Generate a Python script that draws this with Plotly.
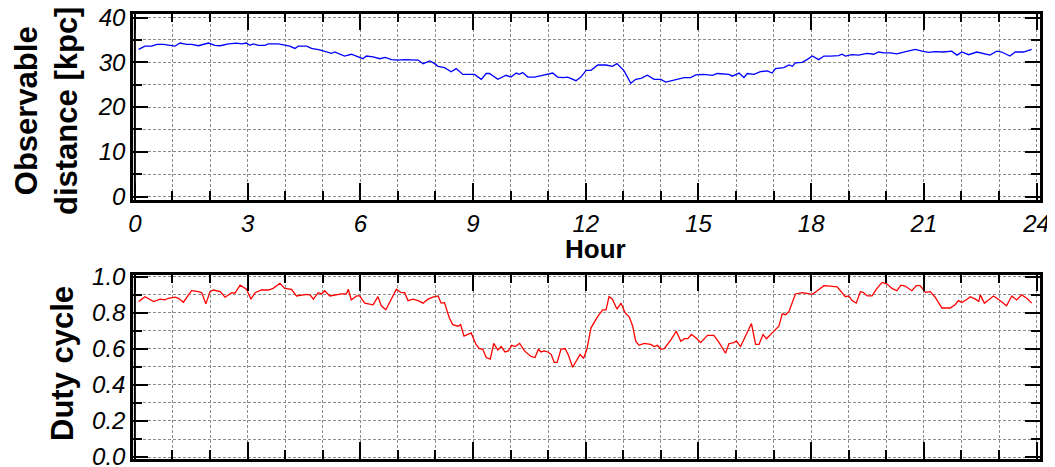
import plotly.graph_objects as go

# ---- data ----
hours_dist = [0.10,0.27,0.45,0.58,0.76,0.89,1.07,1.20,1.38,1.51,1.69,1.96,2.13,2.27,2.49,2.71,2.84,2.97,3.06,3.15,
              3.29,3.46,3.55,3.82,3.99,4.12,4.26,4.35,4.57,4.70,4.92,5.05,5.23,5.32,5.45,5.58,5.76,5.94,6.07,6.16,
              6.34,6.52,6.66,6.83,7.00,7.18,7.45,7.54,7.67,7.85,7.98,
              8.07,8.24,8.42,8.55,8.73,9.04,9.22,9.35,9.44,9.66,9.88,10.01,10.15,10.23,10.32,10.46,10.63,10.85,10.99,
              11.12,11.25,11.39,11.52,11.61,11.74,11.87,12.01,12.14,12.32,12.54,12.71,12.83,13.02,13.20,13.33,13.47,
              13.64,13.82,14.00,14.13,14.26,14.62,14.79,14.93,15.15,15.37,15.50,15.81,15.90,
              16.08,16.21,16.30,16.48,16.65,16.83,16.96,17.05,17.27,17.41,17.50,17.58,17.76,17.89,18.03,18.20,18.34,
              18.51,18.73,18.82,18.91,19.09,19.26,19.49,19.66,19.80,19.93,20.11,20.28,20.46,20.68,20.77,20.95,21.12,
              21.30,21.52,21.74,21.88,22.01,22.19,22.41,22.58,22.76,22.94,23.07,23.29,23.43,23.65,23.87]
distance_kpc = [32.9,33.6,33.6,34.0,34.0,33.8,33.6,34.3,34.0,34.0,33.7,34.3,33.8,33.7,34.1,34.3,34.1,34.3,33.8,34.1,
                33.8,33.8,34.1,34.1,33.8,33.6,33.1,33.6,33.6,33.1,32.8,32.5,32.0,32.3,31.8,31.4,31.8,31.2,30.8,31.4,
                31.2,30.8,31.1,30.6,30.5,30.6,30.6,30.5,29.7,30.3,29.7,
                29.1,28.8,27.9,28.6,27.3,27.3,26.2,27.5,27.5,26.2,27.1,26.7,27.6,27.3,27.7,26.7,26.7,27.1,27.3,
                27.6,26.7,26.6,26.7,26.4,25.9,26.7,28.2,28.2,29.4,29.4,29.1,29.7,28.1,25.3,26.2,26.4,
                27.1,26.2,26.2,25.6,25.9,26.6,26.6,27.2,27.3,27.1,27.5,27.3,26.9,
                27.6,26.6,27.5,27.3,27.9,28.1,27.6,28.6,28.8,29.4,29.1,29.9,30.0,30.6,31.4,30.6,31.4,
                31.4,31.5,31.8,31.4,31.7,31.6,32.0,31.8,32.3,32.1,32.1,31.9,32.3,32.7,32.9,32.5,32.2,
                32.4,32.3,32.5,31.6,32.3,31.7,32.3,32.0,31.6,32.5,32.3,31.4,32.3,32.3,32.9]

hours_duty = [0.10,0.27,0.50,0.67,0.80,0.89,1.07,1.16,1.29,1.51,1.69,1.78,1.89,2.00,2.09,2.27,2.40,2.58,2.66,2.80,
              2.97,3.09,3.20,3.37,3.55,3.68,3.86,3.99,4.17,4.30,4.57,4.66,4.75,4.88,4.97,5.05,5.19,5.50,5.63,5.68,
              5.76,5.90,5.98,6.12,6.34,6.47,6.56,6.68,6.96,7.09,7.18,7.27,7.40,7.54,7.67,7.80,7.93,8.07,
              8.15,8.24,8.37,8.46,8.60,8.67,8.76,8.95,9.08,9.17,9.26,9.35,9.46,9.55,9.66,9.75,9.85,9.94,10.03,10.12,
              10.24,10.37,10.54,10.65,10.74,10.81,10.90,10.99,11.08,11.16,11.24,11.34,11.45,11.54,11.65,11.78,11.85,
              11.94,12.03,12.14,12.32,12.45,12.54,12.62,12.71,12.83,12.94,13.04,13.16,13.25,13.33,13.42,13.55,13.73,
              13.82,13.91,14.00,14.09,14.26,14.41,14.53,14.63,14.72,14.81,14.93,
              15.06,15.24,15.41,15.55,15.72,15.81,15.94,16.01,16.12,16.25,16.41,16.52,16.61,16.72,16.81,16.96,17.10,
              17.14,17.23,17.32,17.41,
              17.58,17.76,17.89,18.03,18.16,18.34,18.51,18.69,18.91,19.00,19.09,19.20,19.31,19.40,19.49,19.62,19.75,
              19.89,20.02,20.15,20.28,20.39,20.50,20.68,20.80,20.90,21.04,21.17,21.30,21.48,21.70,21.83,21.92,22.01,
              22.15,22.23,22.37,22.46,22.50,22.61,22.72,22.85,22.98,23.12,23.20,23.34,23.47,23.60,23.74,23.87]
duty_cycle = [0.863,0.890,0.863,0.876,0.872,0.881,0.887,0.881,0.859,0.923,0.918,0.912,0.850,0.918,0.927,0.918,0.887,0.912,0.909,0.954,
              0.931,0.876,0.912,0.927,0.927,0.936,0.964,0.936,0.931,0.894,0.903,0.900,0.876,0.912,0.905,0.923,0.894,0.905,0.905,0.931,
              0.872,0.894,0.894,0.854,0.845,0.890,0.839,0.817,0.931,0.912,0.912,0.868,0.876,0.868,0.854,0.876,0.887,0.894,
              0.854,0.857,0.772,0.735,0.726,0.735,0.671,0.689,0.625,0.602,0.598,0.552,0.543,0.631,0.594,0.613,0.583,0.589,0.620,0.613,
              0.631,0.589,0.558,0.552,0.598,0.583,0.589,0.583,0.570,0.525,0.525,0.598,0.602,0.565,0.498,0.543,0.570,
              0.547,0.598,0.717,0.781,0.817,0.817,0.890,0.876,0.821,0.854,0.803,0.777,0.726,0.643,0.620,0.631,0.625,
              0.613,0.620,0.598,0.602,0.649,0.698,0.643,0.657,0.657,0.680,0.662,
              0.635,0.675,0.675,0.635,0.576,0.629,0.635,0.644,0.613,0.671,0.741,0.625,0.625,0.680,0.656,0.689,0.722,
              0.726,0.795,0.790,0.808,
              0.905,0.912,0.909,0.903,0.923,0.951,0.949,0.945,0.890,0.894,0.868,0.854,0.918,0.912,0.894,0.894,0.936,
              0.969,0.960,0.936,0.923,0.954,0.949,0.923,0.951,0.951,0.914,0.918,0.887,0.827,0.827,0.845,0.868,0.857,
              0.876,0.890,0.876,0.863,0.900,0.854,0.872,0.894,0.876,0.854,0.839,0.894,0.872,0.900,0.881,0.854]

x_ticks = [0, 3, 6, 9, 12, 15, 18, 21, 24]
dist_ticks = [0, 10, 20, 30, 40]
duty_ticks = [0.0, 0.2, 0.4, 0.6, 0.8, 1.0]

# ---- styling ----
W, H = 1055, 467
OFF = 8  # page margin around the figure
FONT = "Liberation Sans, Arial, sans-serif"
GRID = "#8c8c8c"
XL, XR = 133, 1040
TOP_T, TOP_B = 13.5, 200
BOT_T, BOT_B = 274.5, 459


def px2fx(p):
    return (p - OFF) / W


def px2fy(p):
    return 1 - (p - OFF) / H


def ital(vals, fmt):
    return ["<i>" + fmt.format(v) + "</i>" for v in vals]


fig = go.Figure()
fig.add_trace(go.Scatter(x=hours_dist, y=distance_kpc, mode="lines",
                         line=dict(color="#0000ff", width=1.3), xaxis="x", yaxis="y",
                         showlegend=False, hoverinfo="skip"))
fig.add_trace(go.Scatter(x=hours_duty, y=duty_cycle, mode="lines",
                         line=dict(color="#ff0000", width=1.3), xaxis="x2", yaxis="y2",
                         showlegend=False, hoverinfo="skip"))

tickfont = dict(family=FONT, size=24, color="black")
grid_common = dict(showgrid=True, gridcolor=GRID, gridwidth=1, griddash="3px,2px")
axis_common = dict(showline=True, linecolor="black", linewidth=2.5, mirror="allticks",
                   ticks="inside", tickcolor="black", tickwidth=2.2,
                   zeroline=False, tickfont=tickfont, fixedrange=True, automargin=False,
                   ticklabeloverflow="allow", **grid_common)


def xaxis(show_labels):
    return dict(
        domain=[px2fx(XL), px2fx(XR)], range=[-0.05, 24.09],
        tickvals=x_ticks, ticktext=ital(x_ticks, "{}"), showticklabels=show_labels,
        ticklen=17,
        minor=dict(dtick=1, tick0=0, ticks="inside", ticklen=9, tickwidth=1.6, tickcolor="black",
                   **grid_common),
        **axis_common,
    )


fig.update_layout(
    width=W, height=H, margin=dict(l=0, r=0, t=0, b=0, autoexpand=False),
    paper_bgcolor="white", plot_bgcolor="white",
    xaxis=dict(**xaxis(True), anchor="y"),
    xaxis2=dict(**xaxis(False), anchor="y2"),
    yaxis=dict(
        domain=[px2fy(TOP_B), px2fy(TOP_T)], range=[-0.75, 40.9], anchor="x",
        tickvals=dist_ticks, ticktext=ital(dist_ticks, "{}"), ticklen=15,
        minor=dict(dtick=5, tick0=0, ticks="inside", ticklen=9, tickwidth=1.6, tickcolor="black",
                   **grid_common),
        **axis_common,
    ),
    yaxis2=dict(
        domain=[px2fy(BOT_B), px2fy(BOT_T)], range=[-0.011, 1.013], anchor="x2",
        tickvals=duty_ticks, ticktext=ital(duty_ticks, "{:.1f}"), ticklen=15,
        minor=dict(dtick=0.1, tick0=0, ticks="inside", ticklen=9, tickwidth=1.6, tickcolor="black",
                   **grid_common),
        **axis_common,
    ),
)

# inner duplicate axis lines at hour 0 (as in the reference)
fig.add_shape(type="line", xref="x", yref="y", x0=0, x1=0, y0=0, y1=40,
              line=dict(color="black", width=2))
fig.add_shape(type="line", xref="x2", yref="y2", x0=0, x1=0, y0=0, y1=1,
              line=dict(color="black", width=2))

title_font = dict(family=FONT, size=31, color="black", weight="bold")
fig.add_annotation(text="Observable<br>distance [kpc]", xref="paper", yref="paper",
                   x=px2fx(46), y=px2fy(111), xanchor="center", yanchor="middle",
                   textangle=-90, showarrow=False, font=title_font)
fig.add_annotation(text="Duty cycle", xref="paper", yref="paper",
                   x=px2fx(62), y=px2fy(364), xanchor="center", yanchor="middle",
                   textangle=-90, showarrow=False, font=title_font)
fig.add_annotation(text="Hour", xref="paper", yref="paper",
                   x=px2fx(595), y=px2fy(249), xanchor="center", yanchor="middle",
                   showarrow=False, font=dict(family=FONT, size=26, color="black", weight="bold"))

fig.write_html("out.html")
